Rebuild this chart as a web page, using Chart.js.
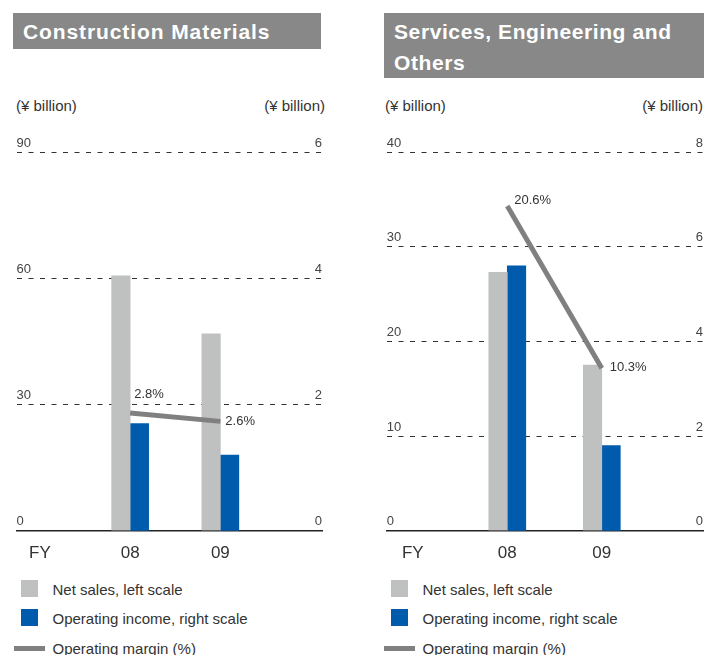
<!DOCTYPE html>
<html>
<head>
<meta charset="utf-8">
<script src="https://cdn.jsdelivr.net/npm/chart.js@4/dist/chart.umd.min.js"></script>
<style>
  html, body { margin: 0; padding: 0; background: #fff; }
  body {
    width: 707px; height: 655px; position: relative; overflow: hidden;
    font-family: "Liberation Sans", Arial, Helvetica, sans-serif; color: #333;
  }
  .panel { position: absolute; top: 0; height: 655px; }
  .title {
    position: absolute; top: 13px; background: #888; color: #fff;
    font-weight: bold; font-size: 21px; letter-spacing: 0.6px; line-height: 31px;
    padding: 3px 0 0 10px; box-sizing: border-box; white-space: nowrap;
  }
  .unit { position: absolute; top: 97px; width: 120px; font-size: 15px; line-height: 18px; white-space: nowrap; }
  canvas { position: absolute; left: 0; top: 0; }
  .legend-row { position: absolute; left: 0; width: 330px; height: 20px; }
  .legend-row .mark { position: absolute; }
  .legend-row .txt { position: absolute; top: 1px; font-size: 15px; line-height: 20px; white-space: nowrap; color: #333; }
</style>
</head>
<body>

<div class="panel" id="panelCM" style="left:0; width:345px;">
  <div class="title" style="left:13px; width:308px; height:36px; letter-spacing:0.9px;">Construction Materials</div>
  <div class="unit" style="left:16px;">(¥ billion)</div>
  <div class="unit" style="left:205px; text-align:right;">(¥ billion)</div>
  <canvas id="chartCM" width="345" height="575"></canvas>
</div>

<div class="panel" id="panelSE" style="left:370px; width:337px;">
  <div class="title" style="left:14px; width:320px; height:65px;">Services, Engineering and<br>Others</div>
  <div class="unit" style="left:15px;">(¥ billion)</div>
  <div class="unit" style="left:213px; text-align:right;">(¥ billion)</div>
  <canvas id="chartSE" width="337" height="575"></canvas>
</div>

<script>
// Fiscal years shown on the horizontal axis, and the axis captions (FY marker first)
const fiscalYears = ['08', '09'];
const axisLabels = ['FY', '08', '09'];

// Construction Materials (¥ billion / %)
const cmNetSales = [60.6, 46.8];
const cmOperatingIncome = [1.7, 1.2];
const cmOperatingMargin = [2.8, 2.6];
const cmSalesTicks = [0, 30, 60, 90];
const cmIncomeTicks = [0, 2, 4, 6];
const cmMarginMax = 9;

// Services, Engineering and Others (¥ billion / %)
const seNetSales = [27.3, 17.5];
const seOperatingIncome = [5.6, 1.8];
const seOperatingMargin = [20.6, 10.3];
const seSalesTicks = [0, 10, 20, 30, 40];
const seIncomeTicks = [0, 2, 4, 6, 8];
const seMarginMax = 24;

const FONT = '"Liberation Sans", Arial, Helvetica, sans-serif';
const SALES_COLOR = '#BFC0C0';
const INCOME_COLOR = '#005BAC';
const MARGIN_COLOR = '#808080';

// Writes the margin percentage beside each point of the margin line
const marginLabels = {
  id: 'marginLabels',
  afterDatasetsDraw(chart, args, opts) {
    const idx = chart.data.datasets.findIndex(d => d.type === 'line');
    const meta = chart.getDatasetMeta(idx);
    const ctx = chart.ctx;
    ctx.save();
    ctx.font = '13px ' + FONT;
    ctx.fillStyle = '#333';
    ctx.textAlign = 'left';
    ctx.textBaseline = 'middle';
    meta.data.forEach((pt, i) => {
      const v = chart.data.datasets[idx].data[i].y;
      const off = opts.offsets[i] || [6, 0];
      ctx.fillText(v.toFixed(1) + '%', pt.x + off[0], pt.y + off[1]);
    });
    ctx.restore();
  }
};

function pointsFor(values) {
  return fiscalYears.map((fy, i) => ({ x: axisLabels.indexOf(fy), y: values[i] }));
}

function valueAxis(position, ticks, showGrid) {
  return {
    type: 'linear',
    position: position,
    min: ticks[0],
    max: ticks[ticks.length - 1],
    afterBuildTicks: s => { s.ticks = ticks.map(v => ({ value: v })); },
    grid: { display: showGrid, color: '#333', lineWidth: 1, drawTicks: false },
    border: { display: false, dash: [5, 6.5] },
    ticks: { mirror: true, padding: 0, labelOffset: -9, color: '#444', font: { family: FONT, size: 13 } }
  };
}

function buildChart(canvasId, cfg) {
  return new Chart(document.getElementById(canvasId), {
    type: 'bar',
    data: {
      datasets: [
        {
          type: 'bar', label: 'Net sales, left scale', data: pointsFor(cfg.sales),
          backgroundColor: SALES_COLOR, yAxisID: 'ySales', order: 1, barThickness: 18.5
        },
        {
          type: 'bar', label: 'Operating income, right scale', data: pointsFor(cfg.income),
          backgroundColor: INCOME_COLOR, yAxisID: 'yIncome', order: 1, barThickness: 18.5
        },
        {
          type: 'line', label: 'Operating margin (%)', data: pointsFor(cfg.margin),
          borderColor: MARGIN_COLOR, backgroundColor: MARGIN_COLOR, borderWidth: 5,
          borderCapStyle: 'butt', pointRadius: 0, tension: 0, yAxisID: 'yMargin', order: 0
        }
      ]
    },
    options: {
      responsive: false,
      animation: false,
      devicePixelRatio: 1,
      layout: { padding: { left: cfg.padLeft, right: cfg.padRight, top: 152.3, bottom: 4.3 } },
      plugins: {
        legend: { display: false },
        tooltip: { enabled: false },
        marginLabels: { offsets: cfg.labelOffsets }
      },
      scales: {
        x: {
          type: 'linear', position: 'bottom', min: cfg.xMin, max: cfg.xMax, bounds: 'data', offset: false,
          afterBuildTicks: s => { s.ticks = axisLabels.map((_, i) => ({ value: i })); },
          afterFit: s => { s.height = 40; },
          grid: { display: false, drawTicks: false, offset: false },
          border: { display: true, color: '#222', width: 1.5 },
          ticks: {
            callback: v => axisLabels[v], autoSkip: false, maxRotation: 0,
            padding: 12, color: '#333', font: { family: FONT, size: 17 }
          }
        },
        ySales: valueAxis('left', cfg.salesTicks, true),
        yIncome: valueAxis('right', cfg.incomeTicks, false),
        yMargin: { type: 'linear', display: false, min: 0, max: cfg.marginMax }
      }
    },
    plugins: [marginLabels]
  });
}

// Legend rows built from each chart's datasets
function buildLegend(panelId, chart) {
  const panel = document.getElementById(panelId);
  const tops = [578.5, 607.5, 637.5];
  chart.data.datasets.forEach((ds, i) => {
    const row = document.createElement('div');
    row.className = 'legend-row';
    row.style.top = tops[i] + 'px';
    const mark = document.createElement('div');
    mark.className = 'mark';
    if (ds.type === 'line') {
      Object.assign(mark.style, { left: '13.5px', top: '8px', width: '31px', height: '5px', background: ds.borderColor });
    } else {
      Object.assign(mark.style, { left: '21px', top: '1.5px', width: '16.5px', height: '16.5px', background: ds.backgroundColor });
    }
    const txt = document.createElement('div');
    txt.className = 'txt';
    txt.style.left = '52.5px';
    txt.textContent = ds.label;
    row.appendChild(mark);
    row.appendChild(txt);
    panel.appendChild(row);
  });
}

const chartCM = buildChart('chartCM', {
  sales: cmNetSales, income: cmOperatingIncome, margin: cmOperatingMargin,
  salesTicks: cmSalesTicks, incomeTicks: cmIncomeTicks, marginMax: cmMarginMax,
  padLeft: 16.5, padRight: 23, xMin: -0.26, xMax: 3.127,
  labelOffsets: [[4, -19], [5, 0]]
});

const chartSE = buildChart('chartSE', {
  sales: seNetSales, income: seOperatingIncome, margin: seOperatingMargin,
  salesTicks: seSalesTicks, incomeTicks: seIncomeTicks, marginMax: seMarginMax,
  padLeft: 16.7, padRight: 4, xMin: -0.276, xMax: 3.071,
  labelOffsets: [[7, -5], [8, -1]]
});

buildLegend('panelCM', chartCM);
buildLegend('panelSE', chartSE);
</script>
</body>
</html>
